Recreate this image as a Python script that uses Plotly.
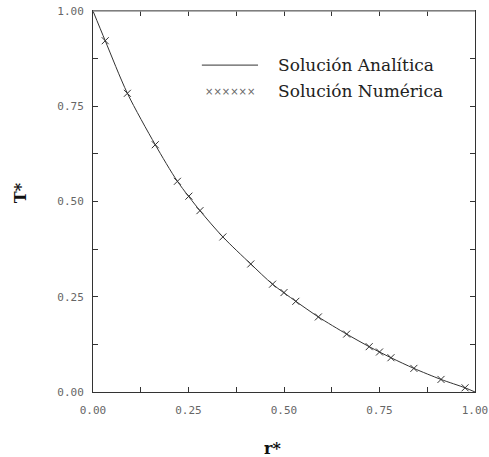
import plotly.graph_objects as go

# Data
r_num = [0.032, 0.090, 0.163, 0.221, 0.251, 0.280, 0.340, 0.413, 0.470, 0.500,
         0.531, 0.590, 0.664, 0.723, 0.750, 0.780, 0.840, 0.911, 0.974]
T_num = [0.922, 0.784, 0.649, 0.553, 0.514, 0.476, 0.407, 0.336, 0.283, 0.261,
         0.238, 0.197, 0.152, 0.119, 0.105, 0.090, 0.062, 0.033, 0.011]

r_ana = [0.0, 0.032, 0.090, 0.163, 0.221, 0.280, 0.340, 0.413, 0.470, 0.531,
         0.590, 0.664, 0.723, 0.780, 0.840, 0.911, 0.974, 1.0]
T_ana = [1.0, 0.922, 0.784, 0.649, 0.553, 0.476, 0.407, 0.336, 0.283, 0.238,
         0.197, 0.152, 0.119, 0.090, 0.062, 0.033, 0.011, 0.0]

tick_vals = [0, 0.125, 0.25, 0.375, 0.5, 0.625, 0.75, 0.875, 1.0]
tick_text = ["0.00", "", "0.25", "", "0.50", "", "0.75", "", "1.00"]

legend_names = ["Solución Analítica", "Solución Numérica"]
x_title = "r*"
y_title = "T*"

fig = go.Figure()
fig.add_trace(go.Scatter(x=r_ana, y=T_ana, mode="lines",
                         line=dict(color="#333333", width=1, shape="spline", smoothing=0.8),
                         name=legend_names[0], cliponaxis=False))
fig.add_trace(go.Scatter(x=r_num, y=T_num, mode="markers",
                         marker=dict(symbol="x-thin", size=7,
                                     line=dict(color="#333333", width=1)),
                         name=legend_names[1], cliponaxis=False))

axis_common = dict(range=[0, 1], tickvals=tick_vals, ticktext=tick_text,
                   ticks="inside", ticklen=5, tickwidth=1, tickcolor="#333333",
                   showline=True, linecolor="#333333", linewidth=1,
                   mirror="allticks", showgrid=False, zeroline=False,
                   automargin=False,
                   tickfont=dict(family="DejaVu Sans Mono", size=11, color="#666666"))

fig.update_xaxes(**axis_common, ticklabelstandoff=8)
fig.update_yaxes(**axis_common, ticklabelstandoff=6)

fig.update_layout(
    width=489, height=457,
    margin=dict(l=93, r=14, t=11, b=65, autoexpand=False),
    paper_bgcolor="white", plot_bgcolor="white",
    showlegend=False,
    shapes=[
        dict(type="line", xref="paper", yref="paper", x0=0, x1=1, y0=1, y1=1,
             line=dict(color="#999999", width=1.5)),
        dict(type="line", xref="paper", yref="paper", x0=0.285, x1=0.432,
             y0=0.858, y1=0.858, line=dict(color="#333333", width=1)),
    ],
    annotations=[
        dict(text="××××××", xref="paper", yref="paper", x=0.359, y=0.790,
             xanchor="center", yanchor="middle",
             showarrow=False, font=dict(family="DejaVu Sans", size=10, color="#666666")),
        dict(text=legend_names[0], xref="paper", yref="paper", x=0.48, y=0.858,
             xanchor="left", yanchor="middle", showarrow=False,
             font=dict(family="DejaVu Serif", size=17, color="#222222")),
        dict(text=legend_names[1], xref="paper", yref="paper", x=0.48, y=0.790,
             xanchor="left", yanchor="middle", showarrow=False,
             font=dict(family="DejaVu Serif", size=17, color="#222222")),
        dict(text="<b>" + x_title + "</b>", xref="paper", yref="paper", x=0.471, y=-0.147,
             xanchor="center", yanchor="middle",
             showarrow=False, font=dict(family="DejaVu Serif", size=16, color="#111111")),
        dict(text="<b>" + y_title + "</b>", xref="paper", yref="paper", x=-0.191, y=0.522,
             xanchor="center", yanchor="middle",
             textangle=-90, showarrow=False,
             font=dict(family="DejaVu Serif", size=16, color="#111111")),
    ],
)

fig.write_html("out.html", config={"displayModeBar": False},
               post_script="document.body.style.margin='0';document.body.style.overflow='hidden';")
